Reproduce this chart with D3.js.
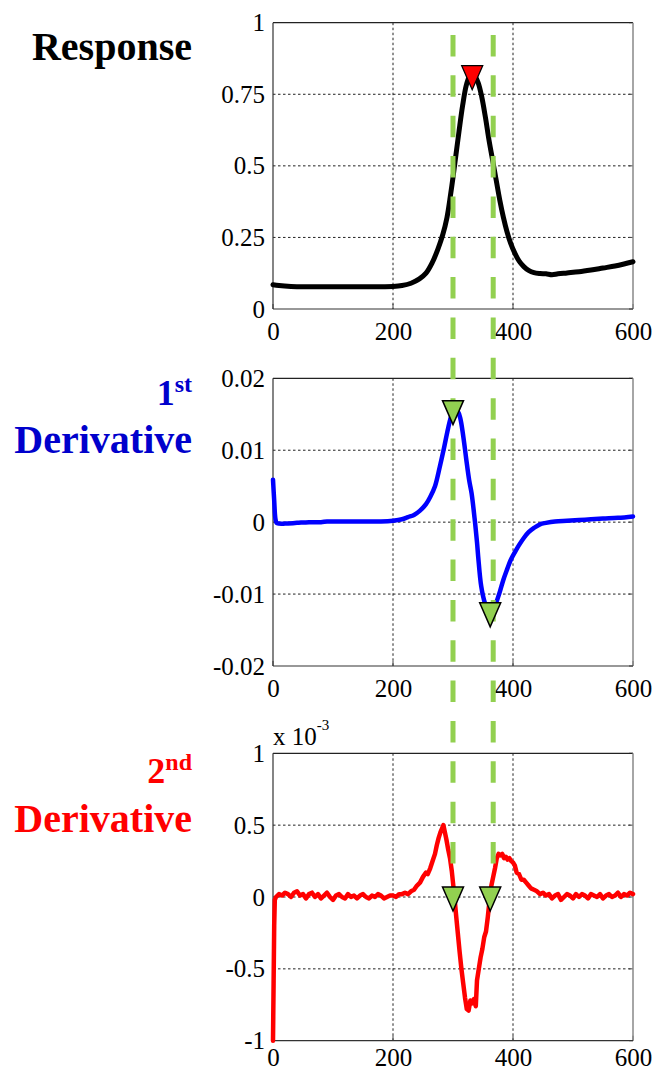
<!DOCTYPE html>
<html>
<head>
<meta charset="utf-8">
<script src="https://cdn.jsdelivr.net/npm/d3@7"></script>
<style>
  html, body { margin: 0; padding: 0; background: #fff; }
  svg { display: block; }
</style>
</head>
<body>
<svg id="chart" width="657" height="1073"></svg>
<script>
// ---------- DATA ----------
const xTicks = [0, 200, 400, 600];
const xTickLabels = ["0", "200", "400", "600"];

const respTicks = [0, 0.25, 0.5, 0.75, 1];
const respTickLabels = ["0", "0.25", "0.5", "0.75", "1"];
const d1Ticks = [-0.02, -0.01, 0, 0.01, 0.02];
const d1TickLabels = ["-0.02", "-0.01", "0", "0.01", "0.02"];
const d2Ticks = [-1, -0.5, 0, 0.5, 1];
const d2TickLabels = ["-1", "-0.5", "0", "0.5", "1"];

// Response curve
const respX = [0,10,30,60,100,150,200,215,230,244,255,265,275,283,290,296,300,305,310,316,322,327,331,336,342,348,354,360,366,372,378,384,390,396,403,410,418,426,435,445,455,465,475,490,510,530,550,570,585,600];
const respY = [0.085,0.082,0.079,0.078,0.078,0.078,0.079,0.082,0.09,0.105,0.125,0.16,0.21,0.26,0.32,0.40,0.46,0.54,0.62,0.71,0.78,0.81,0.82,0.815,0.79,0.74,0.67,0.59,0.52,0.45,0.38,0.32,0.27,0.23,0.195,0.168,0.148,0.135,0.127,0.124,0.123,0.12,0.123,0.126,0.13,0.136,0.143,0.15,0.157,0.165];

// 1st derivative
const d1X = [0,2,4,6,10,20,40,60,80,90,100,120,150,170,180,200,215,225,235,245,255,262,270,278,285,292,298,303,308,312,317,322,327,331,336,340,342,347,353,358,362,367,372,378,384,390,396,403,410,418,426,435,445,455,470,490,510,530,550,575,600];
const d1Y = [0.0059,0.003,0.0005,-0.0001,-0.0002,-0.0002,-0.0001,0,0,0.0001,0.0001,0.0001,0.0001,0.0001,0.0001,0.0002,0.0004,0.0007,0.001,0.0016,0.0025,0.0035,0.005,0.0077,0.0103,0.0131,0.015,0.0157,0.0154,0.0145,0.012,0.0088,0.0058,0.004,0.0005,-0.0028,-0.0048,-0.0089,-0.0112,-0.0122,-0.0126,-0.0122,-0.0112,-0.0097,-0.008,-0.0066,-0.0053,-0.0042,-0.0032,-0.0022,-0.0014,-0.0008,-0.0003,-0.0001,0.0001,0.0002,0.0003,0.0004,0.0005,0.0006,0.0008];

// 2nd derivative (units of 1e-3)
const d2X = [0,1,2,3,5,10,15,20,25,30,35,40,45,50,55,60,65,70,75,80,85,90,95,100,105,110,115,120,125,130,135,140,145,150,155,160,165,170,175,180,185,190,195,200,205,210,215,220,225,230,235,240,245,250,255,258,262,266,270,273,276,279,282,284,286,289,292,295,298,300,302,305,308,311,314,317,320,323,326,329,332,335,338,340,343,346,349,352,355,358,361,364,367,370,373,376,379,382,385,388,391,394,397,400,403,406,410,414,418,422,426,430,435,440,445,450,455,460,465,470,475,480,485,490,495,500,505,510,515,520,525,530,535,540,545,550,555,560,565,570,575,580,585,590,595,600];
const d2Y = [-1.0,-0.6,-0.2,-0.02,0.0,0.02,0.01,0.03,0.02,0.0,0.03,0.04,0.01,0.02,-0.01,0.02,0.03,0.0,0.02,-0.01,0.01,0.03,0.0,-0.02,0.01,0.02,0.0,-0.01,0.02,0.0,0.01,-0.01,0.01,0.02,0.0,-0.01,0.01,0.0,0.02,0.01,-0.01,0.0,0.01,0.01,0.0,0.02,0.02,0.03,0.02,0.04,0.05,0.08,0.1,0.14,0.17,0.16,0.2,0.25,0.3,0.36,0.41,0.45,0.48,0.5,0.46,0.4,0.33,0.27,0.18,0.1,0.02,-0.12,-0.25,-0.38,-0.5,-0.6,-0.7,-0.78,-0.79,-0.72,-0.74,-0.71,-0.76,-0.58,-0.5,-0.42,-0.36,-0.28,-0.24,-0.14,-0.02,0.08,0.14,0.2,0.27,0.3,0.29,0.3,0.27,0.28,0.26,0.27,0.25,0.24,0.22,0.17,0.16,0.12,0.12,0.1,0.08,0.06,0.05,0.04,0.02,0.03,0.01,0.02,-0.01,0.01,0.02,-0.02,0.0,0.02,0.01,-0.01,0.02,0.0,0.02,0.01,-0.01,0.02,0.01,0.0,0.02,-0.01,0.01,0.02,0.0,0.01,0.03,0.0,0.02,0.01,0.03,0.02];

// Markers
const peakX = [332];            const peakY = [0.815];
const d1MarkX = [300, 362];     const d1MarkY = [0.0155, -0.0126];
const d2MarkX = [300, 362];     const d2MarkY = [0, 0];
const guideX = [300, 367];

// ---------- LAYOUT ----------
const svg = d3.select("#chart");
const left = 273, right = 633;
const panels = [
  { top: 22.7, bottom: 309, ticks: respTicks, labels: respTickLabels, domain: [0, 1],
    xs: respX, ys: respY, color: "#000", width: 5, curve: d3.curveCatmullRom, xpad: 13 },
  { top: 378.3, bottom: 666, ticks: d1Ticks, labels: d1TickLabels, domain: [-0.02, 0.02],
    xs: d1X, ys: d1Y, color: "#0000ff", width: 4.5, curve: d3.curveCatmullRom, xpad: 13 },
  { top: 753.3, bottom: 1040.7, ticks: d2Ticks, labels: d2TickLabels, domain: [-1, 1],
    xs: d2X, ys: d2Y, color: "#ff0000", width: 4.5, curve: d3.curveLinear, xpad: 8 }
];
const x = d3.scaleLinear().domain([0, 600]).range([left, right]);
const font = '"Liberation Serif", "Times New Roman", Tinos, serif';
const green = "#92d050";

panels.forEach((p, i) => {
  p.y = d3.scaleLinear().domain(p.domain).range([p.bottom, p.top]);
  const g = svg.append("g");
  // grid
  g.selectAll(".vg").data(xTicks.slice(1, -1)).enter().append("line")
    .attr("x1", d => x(d)).attr("x2", d => x(d))
    .attr("y1", p.top).attr("y2", p.bottom)
    .attr("stroke", "#222").attr("stroke-width", 1).attr("stroke-dasharray", "2.5,2.5");
  g.selectAll(".hg").data(p.ticks.slice(1, -1)).enter().append("line")
    .attr("x1", left).attr("x2", right)
    .attr("y1", d => p.y(d)).attr("y2", d => p.y(d))
    .attr("stroke", "#222").attr("stroke-width", 1).attr("stroke-dasharray", "2.5,2.5");
  // inner ticks on right and bottom
  g.selectAll(".rt").data(p.ticks).enter().append("line")
    .attr("x1", right - 4).attr("x2", right)
    .attr("y1", d => p.y(d)).attr("y2", d => p.y(d))
    .attr("stroke", "#444").attr("stroke-width", 1);
  g.selectAll(".bt").data(xTicks).enter().append("line")
    .attr("x1", d => x(d)).attr("x2", d => x(d))
    .attr("y1", p.bottom - 5).attr("y2", p.bottom)
    .attr("stroke", "#444").attr("stroke-width", 1);
  // frame
  g.append("line").attr("x1", left).attr("x2", right).attr("y1", p.top).attr("y2", p.top)
    .attr("stroke", "#222").attr("stroke-width", 1.2);
  g.append("line").attr("x1", right).attr("x2", right).attr("y1", p.top).attr("y2", p.bottom)
    .attr("stroke", "#888").attr("stroke-width", 1.5);
  g.append("line").attr("x1", left).attr("x2", right).attr("y1", p.bottom).attr("y2", p.bottom)
    .attr("stroke", "#333").attr("stroke-width", 1.2);
  g.append("line").attr("x1", left).attr("x2", left).attr("y1", p.top).attr("y2", p.bottom)
    .attr("stroke", "#333").attr("stroke-width", 1.2);

  // axes labels
  const ya = d3.axisLeft(p.y).tickValues(p.ticks)
    .tickFormat((d, k) => p.labels[k]).tickSize(0).tickPadding(8);
  const yg = g.append("g").attr("transform", `translate(${left},0)`).call(ya);
  const xa = d3.axisBottom(x).tickValues(xTicks)
    .tickFormat((d, k) => xTickLabels[k]).tickSize(0).tickPadding(p.xpad);
  const xg = g.append("g").attr("transform", `translate(0,${p.bottom})`).call(xa);
  [yg, xg].forEach(a => {
    a.select(".domain").remove();
    a.selectAll("text").style("font-family", font).style("font-size", "25px").attr("fill", "#000");
  });

  // curve
  const pts = p.xs.map((v, k) => [v, p.ys[k]]);
  g.append("path").datum(pts)
    .attr("fill", "none").attr("stroke", p.color).attr("stroke-width", p.width)
    .attr("stroke-linejoin", "round").attr("stroke-linecap", "round")
    .attr("d", d3.line().x(d => x(d[0])).y(d => p.y(d[1])).curve(p.curve));
});

// exponent label
const ex = svg.append("text").attr("x", 273).attr("y", 745)
  .style("font-family", font).style("font-size", "25px").attr("fill", "#000");
ex.append("tspan").text("x 10");
ex.append("tspan").attr("dy", -15).style("font-size", "15px").text("-3");

// green guide dashed lines
svg.selectAll(".guide").data(guideX).enter().append("line")
  .attr("x1", d => x(d)).attr("x2", d => x(d))
  .attr("y1", 35).attr("y2", 864)
  .attr("stroke", green).attr("stroke-width", 5)
  .attr("stroke-dasharray", "21.5,18.85");

// triangle markers
function tri(cx, cy) {
  const w = 10.5;
  return `M${cx - w},${cy - 10} L${cx + w},${cy - 10} L${cx},${cy + 14} Z`;
}
svg.selectAll(".pk").data(peakX).enter().append("path")
  .attr("d", (d, k) => tri(x(d), panels[0].y(peakY[k])))
  .attr("fill", "#ff0000").attr("stroke", "#000").attr("stroke-width", 1.3);
svg.selectAll(".m1").data(d1MarkX).enter().append("path")
  .attr("d", (d, k) => tri(x(d), panels[1].y(d1MarkY[k])))
  .attr("fill", green).attr("stroke", "#000").attr("stroke-width", 1.5);
svg.selectAll(".m2").data(d2MarkX).enter().append("path")
  .attr("d", (d, k) => tri(x(d), panels[2].y(d2MarkY[k])))
  .attr("fill", green).attr("stroke", "#000").attr("stroke-width", 1.5);

// titles
function title(xp, yp, color, parts) {
  const t = svg.append("text").attr("x", xp).attr("y", yp).attr("text-anchor", "end")
    .style("font-family", font).style("font-weight", "bold").attr("fill", color);
  parts.forEach(pp => {
    const s = t.append("tspan").style("font-size", pp.size + "px").text(pp.text);
    if (pp.dy) s.attr("dy", pp.dy);
  });
}
title(192, 60, "#000", [{ text: "Response", size: 40 }]);
title(192, 405, "#0000cc", [{ text: "1", size: 36 }, { text: "st", size: 24, dy: -13 }]);
title(192, 453, "#0000cc", [{ text: "Derivative", size: 40 }]);
title(192, 783, "#ff0000", [{ text: "2", size: 36 }, { text: "nd", size: 24, dy: -13 }]);
title(192, 832, "#ff0000", [{ text: "Derivative", size: 40 }]);
</script>
</body>
</html>
